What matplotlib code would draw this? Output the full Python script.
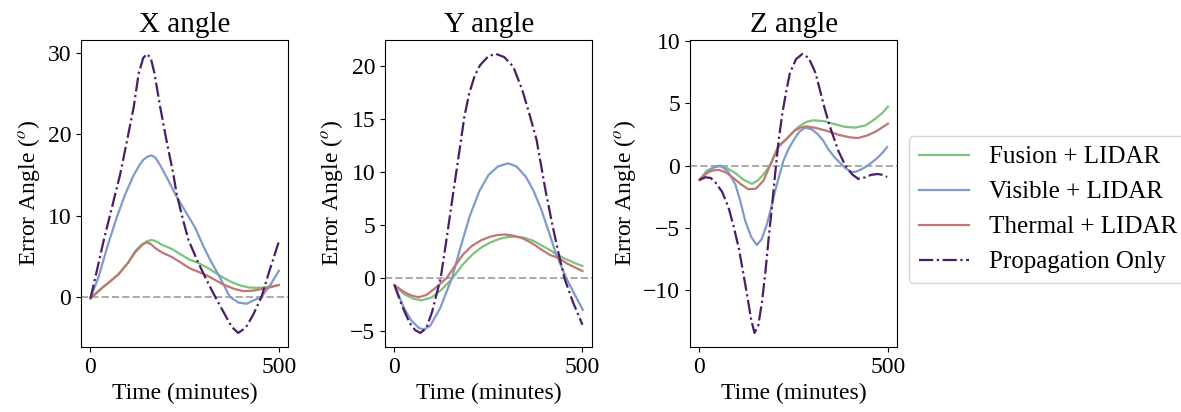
import matplotlib
matplotlib.use("Agg")
import matplotlib.pyplot as plt

plt.rcParams["font.family"] = ["Liberation Serif", "DejaVu Serif"]
plt.rcParams["mathtext.fontset"] = "stix"
plt.rcParams["font.size"] = 17

# ---- X angle ----
x_prop_t = [0, 15, 35, 57, 79, 97, 115, 128, 140, 150, 160, 170, 185, 202, 220, 229, 245,
            260, 285, 310, 331, 357, 375, 392, 412, 432, 454, 475, 500]
x_prop = [-0.2, 2.8, 6.9, 11.0, 15.1, 19.2, 23.4, 27.5, 29.4, 29.9, 29.4, 27.5, 23.4, 19.2,
          15.1, 12.6, 9.6, 7.0, 4.3, 1.9, 0.0, -2.2, -3.7, -4.45, -3.8, -2.2, 0.0, 3.2, 6.8]
x_vis_t = [0, 22, 45, 70, 92, 115, 130, 141, 153, 163, 173, 185, 207, 229, 251, 278, 300,
           317, 344, 370, 392, 414, 435, 454, 478, 500]
x_vis = [-0.2, 2.5, 6.2, 9.8, 12.6, 15.0, 16.2, 16.9, 17.3, 17.4, 17.1, 16.2, 14.3, 12.3,
         10.6, 8.5, 6.2, 4.6, 2.35, 0.0, -0.7, -0.86, -0.4, 0.0, 1.5, 3.2]
x_fus_t = [0, 31, 55, 75, 100, 119, 135, 150, 163, 175, 190, 216, 240, 264, 285, 310, 330,
           353, 375, 397, 420, 441, 470, 500]
x_fus = [-0.2, 1.1, 2.0, 2.8, 4.2, 5.65, 6.4, 6.85, 7.0, 6.8, 6.4, 5.9, 5.2, 4.55, 4.2, 3.6,
         3.0, 2.35, 1.8, 1.4, 1.15, 1.1, 1.2, 1.45]
x_thr_t = [0, 31, 55, 75, 100, 119, 140, 150, 160, 172, 190, 216, 240, 264, 285, 310, 330,
           353, 380, 405, 430, 455, 480, 500]
x_thr = [-0.2, 1.1, 2.0, 2.8, 4.2, 5.5, 6.5, 6.7, 6.5, 6.0, 5.45, 4.9, 4.2, 3.5, 3.1, 2.6,
         2.1, 1.5, 1.0, 0.7, 0.75, 0.95, 1.2, 1.45]

# ---- Y angle ----
y_prop_t = [0, 20, 40, 55, 69, 85, 100, 123, 140, 157, 173, 186, 199, 213, 227, 250, 270,
            292, 316, 340, 360, 378, 402, 420, 437, 452, 475, 500]
y_prop = [-0.66, -2.6, -4.2, -4.9, -5.17, -4.7, -3.2, 0.0, 4.0, 8.2, 12.0, 15.2, 17.4, 19.0,
          20.0, 20.9, 21.1, 20.8, 19.9, 17.7, 15.3, 13.0, 8.2, 5.0, 2.24, 0.0, -2.3, -4.4]
y_vis_t = [0, 25, 45, 65, 79, 95, 122, 153, 175, 200, 226, 250, 275, 302, 325, 350, 370,
           390, 410, 430, 457, 480, 501]
y_vis = [-0.66, -2.8, -4.0, -4.7, -4.85, -4.5, -2.8, 0.0, 2.8, 5.8, 8.2, 9.7, 10.5, 10.8,
         10.5, 9.5, 8.2, 6.5, 4.4, 2.24, 0.0, -1.6, -3.0]
y_fus_t = [0, 25, 50, 73, 100, 125, 155, 180, 208, 230, 255, 280, 300, 320, 345, 370, 395,
           415, 430, 455, 480, 500]
y_fus = [-0.66, -1.5, -1.95, -2.1, -1.8, -1.1, 0.0, 1.2, 2.24, 2.85, 3.35, 3.7, 3.85, 3.9,
         3.8, 3.5, 3.0, 2.6, 2.24, 1.8, 1.4, 1.13]
y_thr_t = [0, 25, 45, 64, 85, 110, 139, 160, 183, 205, 230, 255, 275, 294, 315, 340, 365,
           390, 415, 435, 460, 480, 500]
y_thr = [-0.66, -1.3, -1.65, -1.8, -1.6, -0.9, 0.0, 1.1, 2.24, 3.0, 3.55, 3.9, 4.05, 4.1,
         4.0, 3.75, 3.3, 2.7, 2.15, 1.92, 1.35, 1.0, 0.66]

# ---- Z angle ----
z_prop_t = [0, 16, 30, 42, 60, 77, 90, 104, 115, 126, 137, 146, 156, 166, 175, 183, 192,
            201, 210, 220, 230, 240, 256, 273, 290, 308, 320, 331, 345, 359, 368, 387, 405,
            421, 440, 455, 473, 486, 498]
z_prop = [-1.15, -0.94, -1.0, -1.34, -2.1, -3.35, -4.8, -6.57, -8.4, -10.3, -12.3, -13.4,
          -12.8, -10.9, -8.5, -6.0, -3.4, -0.6, 2.0, 4.2, 5.9, 7.4, 8.5, 8.93, 8.6, 7.4, 6.0,
          4.7, 3.2, 2.0, 1.2, 0.0, -0.7, -1.07, -0.95, -0.75, -0.68, -0.75, -0.92]
z_vis_t = [0, 20, 38, 55, 75, 95, 108, 121, 137, 152, 165, 179, 190, 201, 212, 223, 236,
           249, 265, 280, 298, 314, 328, 342, 360, 387, 403, 415, 430, 447, 470, 485, 498]
z_vis = [-1.15, -0.55, -0.15, 0.0, -0.45, -1.5, -2.8, -4.4, -5.7, -6.36, -5.9, -4.7, -3.4,
         -2.0, -0.8, 0.4, 1.3, 2.0, 2.7, 3.03, 2.9, 2.5, 2.0, 1.3, 0.6, -0.2, -0.54, -0.5,
         -0.3, 0.0, 0.55, 1.0, 1.47]
z_fus_t = [0, 20, 38, 55, 75, 95, 115, 139, 155, 170, 187, 210, 230, 253, 270, 285, 302, 330,
           360, 385, 412, 440, 465, 485, 500]
z_fus = [-1.15, -0.4, -0.15, -0.05, -0.25, -0.6, -1.1, -1.47, -1.2, -0.7, 0.0, 1.6, 2.1,
         2.85, 3.25, 3.5, 3.62, 3.55, 3.3, 3.1, 3.03, 3.2, 3.7, 4.2, 4.7]
z_thr_t = [0, 20, 35, 51, 70, 90, 110, 130, 150, 170, 187, 210, 230, 253, 270, 284, 310,
           340, 370, 400, 421, 445, 470, 500]
z_thr = [-1.15, -0.6, -0.4, -0.35, -0.55, -1.0, -1.5, -1.9, -1.85, -1.2, 0.0, 1.5, 2.1, 2.8,
         3.05, 3.14, 3.0, 2.75, 2.45, 2.25, 2.2, 2.4, 2.75, 3.35]

titles = ["X angle", "Y angle", "Z angle"]
labels = ["Fusion + LIDAR", "Visible + LIDAR", "Thermal + LIDAR", "Propagation Only"]
colors = ["#7cc47c", "#7f9acb", "#c07675", "#4a1d66"]

panels = [
    [(x_fus_t, x_fus), (x_vis_t, x_vis), (x_thr_t, x_thr), (x_prop_t, x_prop)],
    [(y_fus_t, y_fus), (y_vis_t, y_vis), (y_thr_t, y_thr), (y_prop_t, y_prop)],
    [(z_fus_t, z_fus), (z_vis_t, z_vis), (z_thr_t, z_thr), (z_prop_t, z_prop)],
]

fig = plt.figure(figsize=(11.81, 4.12), dpi=100)
lefts = [0.0686, 0.326, 0.5843]
handles = []
for i, series in enumerate(panels):
    ax = fig.add_axes([lefts[i], 0.158, 0.1755, 0.745])
    for j, (t, v) in enumerate(series):
        ls = "-." if j == 3 else "-"
        (h,) = ax.plot(t, v, color=colors[j], linestyle=ls, linewidth=1.6,
                       label=labels[j], solid_joinstyle="round")
        if i == 0:
            handles.append(h)
    ax.axhline(0, color="#aaaaaa", linestyle="--", linewidth=1.4, zorder=0)
    ax.set_xticks([0, 500])
    ax.set_title(titles[i], fontsize=21)
    ax.set_xlabel("Time (minutes)")
    ax.set_ylabel("Error Angle ($^o$)")

fig.legend(handles, labels, loc="center left", bbox_to_anchor=(0.759, 0.4915),
           fontsize=18, framealpha=0.8)

fig.savefig("out.png", dpi=100)
